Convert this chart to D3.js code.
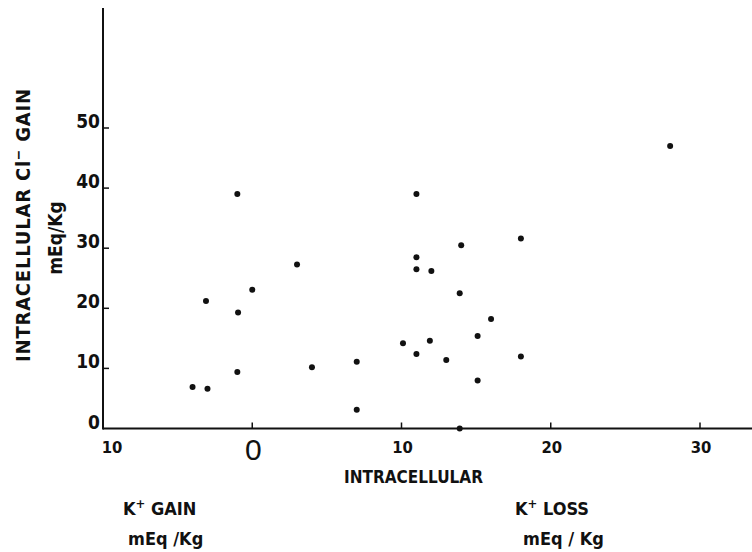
<!DOCTYPE html>
<html lang="en">
  <head>
    <meta charset="UTF-8">
    <title>Intracellular Cl- gain vs K+</title>
    <style>
    * {
      box-sizing: border-box;
      margin: 0;
      padding: 0;
    }

    body {
      background: #fff;
    }

    svg {
      display: block;
    }

    .lbl {
      font-family: "DejaVu Sans Condensed", "DejaVu Sans", sans-serif;
      font-weight: bold;
      fill: #111;
    }

    .axis-line {
      stroke: #111;
      stroke-width: 2px;
      fill: none;
    }

    .dot {
      fill: #111;
    }
    </style>
  </head>
  <body>
    <svg width="752" height="552"></svg>
    <script src="https://d3js.org/d3.v7.min.js"></script>
    <script>
      // K+ change (negative = gain, positive = loss), mEq/Kg
      const kChange = [28, -1, 11, 14, 11, 11, 12, 3, 0, -3.1, -0.95, 13.9, 10.1, 11.9,
                       11, 13, 7, 4, -1, -4, -3, 7, 18, 16, 15.1, 18, 15.1, 13.9];
      // intracellular Cl- gain, mEq/Kg
      const clGain = [47, 39, 39, 30.5, 28.5, 26.5, 26.2, 27.3, 23.1, 21.2, 19.3, 22.5, 14.2, 14.6,
                      12.4, 11.4, 11.1, 10.2, 9.4, 6.9, 6.6, 3.1, 31.6, 18.2, 15.4, 12, 8, 0];

      const xTicks = [-10, 0, 10, 20, 30];
      const xTickLabels = ["10", "0", "10", "20", "30"];
      const yTicks = [0, 10, 20, 30, 40, 50];

      const svg = d3.select("svg");

      const x = d3.scaleLinear().domain([-10, 30]).range([103, 700]);
      const y = d3.scaleLinear().domain([0, 50]).range([428.5, 128]);

      // axis lines
      svg.append("line").attr("class", "axis-line")
        .attr("x1", x(-10)).attr("x2", 752)
        .attr("y1", y(0)).attr("y2", y(0));
      svg.append("line").attr("class", "axis-line")
        .attr("x1", x(-10)).attr("x2", x(-10))
        .attr("y1", 8).attr("y2", y(0) + 1);

      // inward ticks
      svg.selectAll(".xtick")
        .data(xTicks.slice(1))
        .enter().append("line")
        .attr("class", "axis-line")
        .style("stroke-width", "1.5px")
        .attr("x1", d => x(d)).attr("x2", d => x(d))
        .attr("y1", y(0)).attr("y2", y(0) - 6);

      svg.selectAll(".ytick")
        .data(yTicks.slice(1))
        .enter().append("line")
        .attr("class", "axis-line")
        .style("stroke-width", "1.5px")
        .attr("x1", x(-10)).attr("x2", x(-10) + 6)
        .attr("y1", d => y(d)).attr("y2", d => y(d));

      // x tick labels
      svg.selectAll(".xlab")
        .data(xTicks)
        .enter().append("text")
        .attr("class", "lbl")
        .attr("x", d => d === -10 ? x(d) + 9 : x(d) + 1)
        .attr("y", d => d === 0 ? 460 : 453)
        .attr("text-anchor", "middle")
        .style("font-size", d => d === 0 ? "30px" : "16.5px")
        .style("font-family", d => d === 0 ? "'Liberation Sans', sans-serif" : null)
        .style("font-weight", d => d === 0 ? "normal" : null)
        .text((d, i) => xTickLabels[i]);

      // y tick labels
      svg.selectAll(".ylab")
        .data(yTicks)
        .enter().append("text")
        .attr("class", "lbl")
        .attr("x", 100)
        .attr("y", d => y(d))
        .attr("text-anchor", "end")
        .style("font-size", "19px")
        .text(d => d);

      // points
      svg.selectAll(".dot")
        .data(kChange.map((k, i) => [k, clGain[i]]))
        .enter().append("circle")
        .attr("class", "dot")
        .attr("cx", d => x(d[0]))
        .attr("cy", d => y(d[1]))
        .attr("r", 3);

      // y axis title
      const yt = svg.append("text")
        .attr("class", "lbl")
        .attr("transform", "translate(30,225) rotate(-90)")
        .attr("text-anchor", "middle")
        .style("font-size", "20px")
        .style("letter-spacing", "0.8px");
      yt.append("tspan").text("INTRACELLULAR Cl");
      yt.append("tspan").attr("dy", -7).style("font-size", "14px").text("\u2212");
      yt.append("tspan").attr("dy", 7).text("  GAIN");

      svg.append("text")
        .attr("class", "lbl")
        .attr("transform", "translate(62,238) rotate(-90)")
        .attr("text-anchor", "middle")
        .style("font-size", "19px")
        .text("mEq/Kg");

      // x axis titles
      svg.append("text")
        .attr("class", "lbl")
        .attr("x", 413.5).attr("y", 483)
        .attr("text-anchor", "middle")
        .style("font-size", "17px")
        .text("INTRACELLULAR");

      function kLabel(xPos, word) {
        const t = svg.append("text")
          .attr("class", "lbl")
          .attr("x", xPos).attr("y", 515)
          .style("font-size", "18px");
        t.append("tspan").text("K");
        t.append("tspan").attr("dy", -7).style("font-size", "13px").text("+");
        t.append("tspan").attr("dy", 7).text("  " + word);
      }
      kLabel(123, "GAIN");
      kLabel(515, "LOSS");

      svg.append("text")
        .attr("class", "lbl")
        .attr("x", 128).attr("y", 545)
        .style("font-size", "18px")
        .text("mEq /Kg");
      svg.append("text")
        .attr("class", "lbl")
        .attr("x", 523).attr("y", 545)
        .style("font-size", "18px")
        .text("mEq / Kg");
    </script>
  </body>
</html>
